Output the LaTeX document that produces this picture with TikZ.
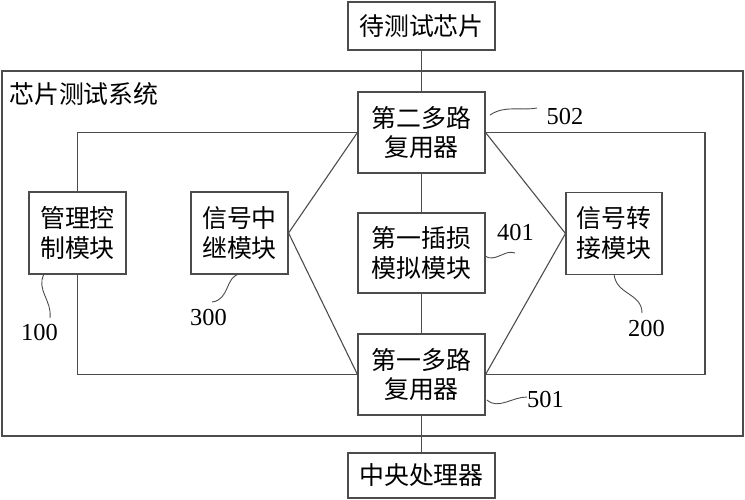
\documentclass[tikz,border=0pt]{standalone}
\usepackage{fontspec}
\setmainfont{Liberation Serif}
\newfontfamily\cjk{Noto Sans CJK SC}
\usetikzlibrary{positioning}

\begin{document}
\begin{tikzpicture}[
    x=1bp, y=-1bp,
    box/.style={rectangle, draw=black!70, line width=1.1pt, inner sep=0pt, align=center,
        font=\cjk\fontsize{25}{30}\selectfont},
    wide/.style={box, minimum width=147bp},
    mux/.style={box, minimum width=127bp, minimum height=81bp},
    module/.style={box, minimum width=97bp, minimum height=82bp},
    link/.style={draw=black!70, line width=1.1pt},
    lead/.style={draw=black!70, line width=0.9pt},
    num/.style={inner sep=0pt, font=\fontsize{24.5}{24.5}\selectfont}
]
    \useasboundingbox (0,0) rectangle (745,500);

    % outer system frame
    \draw[link] (2,71) rectangle (743,436);
    \node[anchor=west, inner sep=0pt, font=\cjk\fontsize{25}{30}\selectfont] (sys) at (9,94) {芯片测试系统};

    % centre column
    \node[wide, minimum height=48bp] (chip) at (421.5,26) {待测试芯片};
    \node[mux] (mux2) at (421.5,132.5) {第二多路\\复用器};
    \node[mux, minimum height=80bp] (loss) at (421.5,253) {第一插损\\模拟模块};
    \node[mux] (mux1) at (421.5,374.5) {第一多路\\复用器};
    \node[wide, minimum height=45bp] (cpu) at (421.5,475.5) {中央处理器};

    % side modules
    \node[module] (mgmt) at (77.5,233) {管理控\\制模块};
    \node[module] (relay) at (239.5,233) {信号中\\继模块};
    \node[module, minimum width=96bp] (trans) at (614,233.5) {信号转\\接模块};

    % connections
    \draw[link] (chip) -- (mux2);
    \draw[link] (mux2) -- (loss);
    \draw[link] (loss) -- (mux1);
    \draw[link] (mux1) -- (cpu);
    \draw[link] (mgmt.north) |- (mux2.west);
    \draw[link] (mgmt.south) |- (mux1.west);
    \draw[link] (relay.east) -- (mux2.west);
    \draw[link] (relay.east) -- (mux1.west);
    \draw[link] (mux2.east) -- (trans.west);
    \draw[link] (trans.west) -- (mux1.east);
    \coordinate (loop) at (705,0);
    \draw[link] (mux2.east) -| (loop |- mux1.east) -- (mux1.east);

    % reference numerals
    \node[num] (n502) at (565,117) {502};
    \node[num] (n401) at (515.5,233) {401};
    \node[num] (n501) at (545.5,400) {501};
    \node[num] (n200) at (646.5,329) {200};
    \node[num] (n300) at (208.5,318) {300};
    \node[num] (n100) at (39.5,333) {100};

    \draw[lead] (490,115) .. controls (505,105) and (520,111) .. (537,108);
    \draw[lead] (485,256) .. controls (495,263) and (505,249) .. (515,253);
    \draw[lead] (487,400) .. controls (498,410) and (512,397) .. (527,397);
    \draw[lead] (614,274) .. controls (616,295) and (642,293) .. (642,313);
    \draw[lead] (240,274) .. controls (225,276) and (230,300) .. (212,302);
    \draw[lead] (44,274) .. controls (36,290) and (52,300) .. (50,318);
\end{tikzpicture}
\end{document}
